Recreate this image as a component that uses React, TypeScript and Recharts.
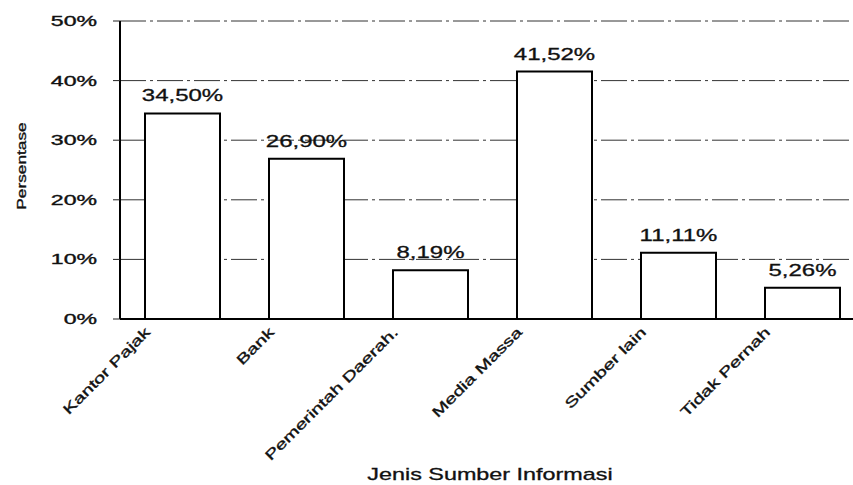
import { BarChart, Bar, XAxis, YAxis, CartesianGrid, LabelList, Label } from "recharts";

const categories = ["Kantor Pajak", "Bank", "Pemerintah Daerah.", "Media Massa", "Sumber lain", "Tidak Pernah"];
const percentages = [34.5, 26.9, 8.19, 41.52, 11.11, 5.26];
const yTicks = [0, 10, 20, 30, 40, 50];

const data = categories.map((name, i) => ({ name, value: percentages[i] }));

const FONT = "'Liberation Sans', Arial, sans-serif";
const INK = "#111";

// the scanned chart uses a very wide, heavy sans, so text is stretched along its baseline
const YTick = ({ x, y, payload }: any) => (
    <text
        transform={`translate(${x - 14},${y}) scale(1.65,1)`}
        textAnchor="end"
        dy="0.36em"
        fontFamily={FONT}
        fontSize={14}
        fill={INK}
        stroke={INK}
        strokeWidth={0.35}
    >
        {payload.value}%
    </text>
);

const XTick = ({ x, y, payload }: any) => (
    <text
        transform={`translate(${x - 31},${y + 6}) rotate(-45) scale(1.45,1)`}
        textAnchor="end"
        fontFamily={FONT}
        fontSize={14}
        fill={INK}
        stroke={INK}
        strokeWidth={0.35}
    >
        {payload.value}
    </text>
);

const ValueLabel = ({ x, y, width, value }: any) => (
    <text
        transform={`translate(${x + width / 2},${y - 12}) scale(1.5,1)`}
        textAnchor="middle"
        fontFamily={FONT}
        fontSize={16}
        fill={INK}
        stroke={INK}
        strokeWidth={0.3}
    >
        {value.toFixed(2).replace(".", ",")}%
    </text>
);

const App = () => {
    return (
        <div style={{ position: "absolute", left: 0, top: 0, width: 853, height: 485, overflow: "hidden", background: "#fff" }}>
            <BarChart width={870} height={485} data={data} margin={{ top: 21, right: 6, bottom: 0, left: 0 }}>
                <CartesianGrid vertical={false} stroke="#333" strokeDasharray="26 4 3 4" strokeWidth={1} />

                <XAxis
                    dataKey="name"
                    height={166}
                    interval={0}
                    tickLine={false}
                    axisLine={{ stroke: "#000", strokeWidth: 2 }}
                    tick={<XTick />}
                >
                    <Label
                        content={({ viewBox }: any) => (
                            <text
                                transform={`translate(${viewBox.x + viewBox.width / 2 - 2},480) scale(1.46,1)`}
                                textAnchor="middle"
                                fontFamily={FONT}
                                fontSize={16}
                                fill={INK}
                                stroke={INK}
                                strokeWidth={0.3}
                            >
                                Jenis Sumber Informasi
                            </text>
                        )}
                    />
                </XAxis>

                <YAxis
                    width={120}
                    domain={[0, 50]}
                    ticks={yTicks}
                    interval={0}
                    tickSize={7}
                    tickLine={{ stroke: "#222" }}
                    axisLine={{ stroke: "#000", strokeWidth: 2 }}
                    tick={<YTick />}
                >
                    <Label
                        content={({ viewBox }: any) => (
                            <text
                                transform={`translate(26,${viewBox.y + viewBox.height / 2 - 4}) rotate(-90) scale(1.33,1)`}
                                textAnchor="middle"
                                fontFamily={FONT}
                                fontSize={13}
                                fill={INK}
                                stroke={INK}
                                strokeWidth={0.35}
                            >
                                Persentase
                            </text>
                        )}
                    />
                </YAxis>

                <Bar dataKey="value" fill="#fff" stroke="#000" strokeWidth={2} barSize={75} isAnimationActive={false}>
                    <LabelList dataKey="value" content={<ValueLabel />} />
                </Bar>
            </BarChart>
        </div>
    );
};

export default App;
